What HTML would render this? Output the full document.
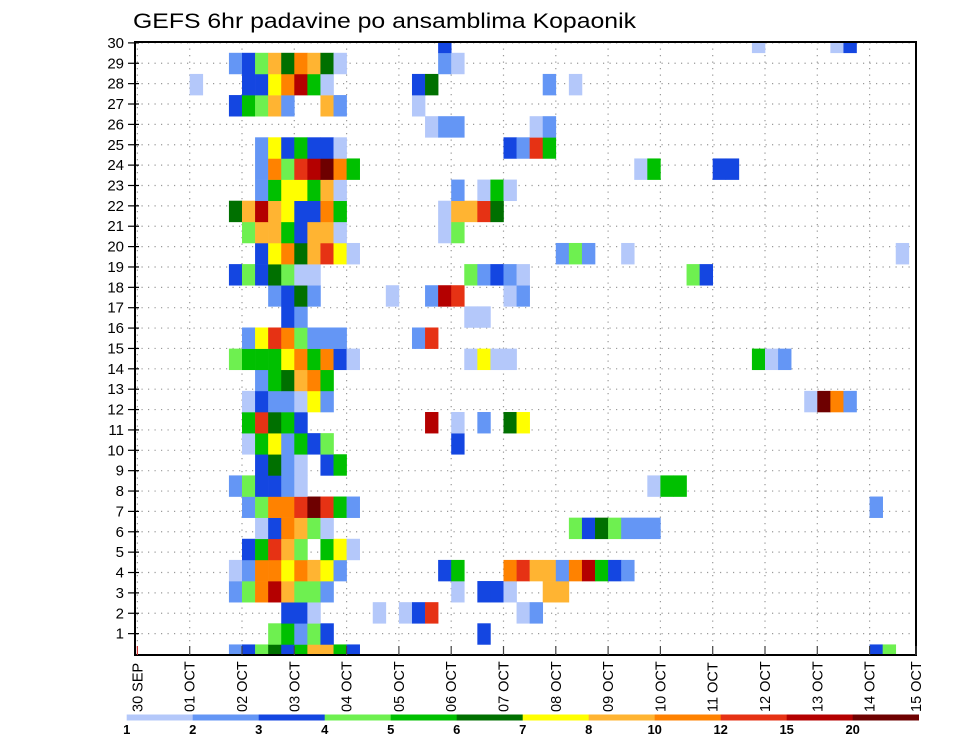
<!DOCTYPE html>
<html><head><meta charset="utf-8"><style>
html,body{margin:0;padding:0;background:#fff;}
svg{display:block;font-family:"Liberation Sans",sans-serif;}
</style></head><body>
<svg id="chart" width="960" height="742" viewBox="0 0 960 742" xmlns="http://www.w3.org/2000/svg">
<text x="133" y="28" font-size="21" textLength="503" lengthAdjust="spacingAndGlyphs" fill="#000">GEFS 6hr padavine po ansamblima Kopaonik</text>
<g id="grid"></g>
<g id="cells"></g>
<g id="axes"></g>
<g id="legend"></g>
</svg>
<script>
// ---- data ----
const dayLabels = ["30 SEP","01 OCT","02 OCT","03 OCT","04 OCT","05 OCT","06 OCT","07 OCT","08 OCT","09 OCT","10 OCT","11 OCT","12 OCT","13 OCT","14 OCT","15 OCT"];
const memberLabels = [1,2,3,4,5,6,7,8,9,10,11,12,13,14,15,16,17,18,19,20,21,22,23,24,25,26,27,28,29,30];
const levelLabels = ["1","2","3","4","5","6","7","8","10","12","15","20"];
const levelColors = ["#b4c8fa","#6496f5","#1446e1","#6ef050","#00c000","#007000","#ffff00","#ffb432","#ff8200","#e63214","#b40000","#6e0000"];
// each member: runs "startStep:levels" (level chars 1-9,a,b,c => colour class index 1..12)
const members = [
"7:2346358853 56:34",
"10:45243 26:3",
"11:331 18:1 20:13a 29:12",
"7:249b8442 24:1 26:331 31:88",
"7:129979872 23:35 28:9a8829b532",
"8:35a84 14:571",
"9:139841 33:4364222",
"8:2499aca52 56:2",
"7:243321 39:155",
"9:3621 14:35",
"8:1572534 24:3",
"8:5a653 22:b 24:1 26:2 28:67",
"8:1322172 51:1c92",
"9:256895",
"7:4555795931 25:1711 47:512",
"8:27a94222 21:2a",
"11:32 25:11",
"10:2362 19:1 22:2ba 28:12",
"7:3436411 25:42321 42:43",
"9:37968a71 32:242 37:1 58:1",
"8:48853881 23:14",
"7:68b873395 23:188a6",
"9:2577581 24:2 26:151",
"9:294abc95 38:15 44:33",
"9:2735331 28:32a5",
"22:122 30:12",
"7:35482 14:82 21:1",
"4:1 8:3379b51 21:36 31:2 33:1",
"7:234869861 23:21",
"23:3 47:1 53:13"
];
// ---- scales ----
const PL=135, PR=916, PT=42, PB=655;
const X0=137.4, DAY=52.3, STEP=DAY/4;
const CH=21.13;
function xStep(k){return X0+k*STEP;}
function xDay(d){return X0+d*DAY;}
function yMember(s){return PB - s*CH;}
function yLabel(v){return 654 - v*20.37;}
const NS="http://www.w3.org/2000/svg";
function mk(tag,attrs,parent){const e=document.createElementNS(NS,tag);for(const a in attrs)e.setAttribute(a,attrs[a]);parent.appendChild(e);return e;}
const svg=document.getElementById('chart');
const grid=document.getElementById('grid'), cells=document.getElementById('cells'), axes=document.getElementById('axes'), legend=document.getElementById('legend');
// clip
const defs=mk('defs',{},svg);
const cp=mk('clipPath',{id:'plotclip'},defs);
mk('rect',{x:PL,y:PT,width:PR-PL,height:PB-PT},cp);
cells.setAttribute('clip-path','url(#plotclip)');
// grid
memberLabels.forEach(v=>{
  const y=yLabel(v);
  const l=mk('line',{x1:PL,x2:PR,y1:y,y2:y,stroke:'#999','stroke-width':1.2,'stroke-dasharray':'1.2,5.3'},grid);
  
  
});
dayLabels.forEach((d,i)=>{
  const x=xDay(i); if(x>PR) return;
  const l=mk('line',{x1:x,x2:x,y1:PT,y2:PB,stroke:'#999','stroke-width':1.2,'stroke-dasharray':'1.2,5.3'},grid);
  
  
});
// cells
const codes="123456789abc";
members.forEach((str,s)=>{
  str.split(' ').forEach(run=>{
    const [st,lv]=run.split(':');
    const start=parseInt(st);
    for(let j=0;j<lv.length;j++){
      const li=codes.indexOf(lv[j]);
      const k=start+j;
      const r=mk('rect',{x:xStep(k).toFixed(2),y:(yMember(s)-CH/2).toFixed(2),width:(STEP+0.3).toFixed(2),height:(CH+0.3).toFixed(2),fill:levelColors[li]},cells);
      
      
    }
  });
});
// axes frame
const fr=mk('rect',{x:PL,y:PT,width:PR-PL,height:PB-PT,fill:'none',stroke:'#000','stroke-width':2},axes);


memberLabels.forEach(v=>{
  const y=yLabel(v);
  mk('line',{x1:PL-7,x2:PL+4,y1:y,y2:y,stroke:'#000','stroke-width':1.2},axes);
  const t=mk('text',{x:PL-11,y:y+5,'font-size':15,'text-anchor':'end',fill:'#000'},axes);
  t.textContent=v;
  
  
});
dayLabels.forEach((d,i)=>{
  const x=Math.min(xDay(i),PR);
  mk('line',{x1:x,x2:x,y1:PB-9,y2:PB,stroke:i===0?'#c33':'#444','stroke-width':1.2},axes);
  const t=mk('text',{x:0,y:0,'font-size':14.5,fill:'#000',transform:'translate('+(x+5)+',712) rotate(-90)'},axes);
  t.textContent=d;
  
  
});
// colorbar
const CBX=126.7, CBW=66;
levelColors.forEach((c,i)=>{
  const r=mk('rect',{x:CBX+i*CBW,y:714.5,width:CBW+0.3,height:6,fill:c},legend);
  
  
  const t=mk('text',{x:CBX+i*CBW,y:734,'font-size':13,'font-weight':'bold','text-anchor':'middle',fill:'#000'},legend);
  t.textContent=levelLabels[i];
  
  
});
</script>
</body></html>
